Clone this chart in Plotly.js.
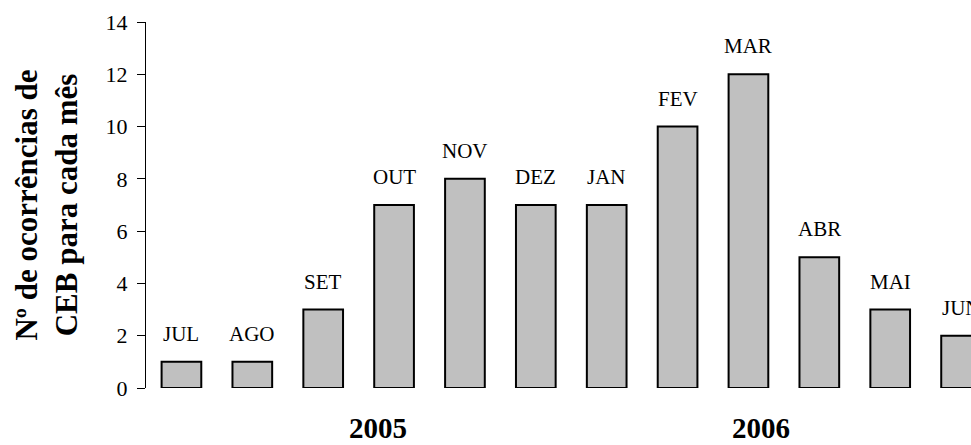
<!DOCTYPE html>
<html>
<head>
<meta charset="utf-8">
<script src="https://cdn.plot.ly/plotly-3.0.1.min.js"></script>
<style>html,body{margin:0;padding:0;background:#fff;}#chart{width:971px;height:445px;}</style>
</head>
<body>
<div id="chart"></div>
<script>
const months = ['JUL','AGO','SET','OUT','NOV','DEZ','JAN','FEV','MAR','ABR','MAI','JUN'];
const counts = [1,1,3,7,8,7,7,10,12,5,3,2];
const years = ['2005','2006'];
const yTicks = [0,2,4,6,8,10,12,14];

const serif = '"Liberation Serif", "Times New Roman", serif';

const trace = {
  type: 'bar',
  x: months,
  y: counts,
  width: 0.56,
  marker: {color: '#c0c0c0', line: {color: '#000', width: 2}},
  hoverinfo: 'x+y'
};

const annotations = months.map((m, i) => ({
  x: m, y: counts[i], xref: 'x', yref: 'y',
  text: m, showarrow: false, yanchor: 'middle', yshift: 28,
  font: {family: serif, size: 21, color: '#000'}
}));
const yearPos = [2.78, 8.18];
years.forEach((yr, i) => annotations.push({
  x: yearPos[i], y: -0.11, xref: 'x', yref: 'paper',
  text: '<b>' + yr + '</b>', showarrow: false, yanchor: 'middle',
  font: {family: serif, size: 29, color: '#000'}
}));

const layout = {
  width: 971, height: 445,
  font: {family: serif, color: '#000'},
  margin: {l: 146, r: 0, t: 21.7, b: 57.3},
  paper_bgcolor: '#fff', plot_bgcolor: '#fff',
  showlegend: false,
  xaxis: {
    type: 'category', range: [-0.5, 11.14],
    showticklabels: false, showline: false, ticks: '', showgrid: false, zeroline: false
  },
  yaxis: {
    range: [0, 14], tickvals: yTicks, ticktext: yTicks.map(String),
    showline: true, linecolor: '#000', linewidth: 1,
    ticks: 'outside', ticklen: 8, tickcolor: '#000', tickwidth: 1,
    ticklabelstandoff: 5,
    showgrid: false, zeroline: false,
    tickfont: {family: serif, size: 22, color: '#000'},
    title: {
      text: '<b>Nº de ocorrências de<br>CEB para cada mês</b>',
      font: {family: serif, size: 31, color: '#000'},
      standoff: 18
    }
  },
  annotations: annotations
};

Plotly.newPlot('chart', [trace], layout, {displayModeBar: false, staticPlot: true});
</script>
</body>
</html>
